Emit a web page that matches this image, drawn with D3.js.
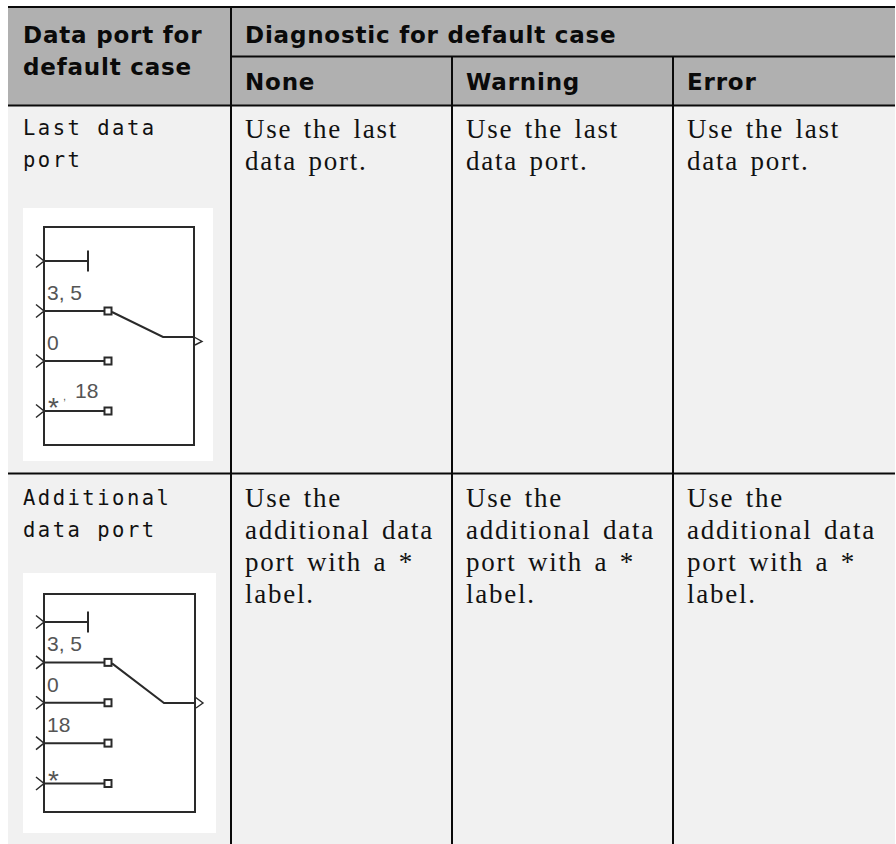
<!DOCTYPE html>
<html lang="en">
<head>
<meta charset="UTF-8">
<script src="https://d3js.org/d3.v7.min.js"></script>
<style>
    html, body { margin: 0; padding: 0; background: #fff; overflow: hidden; }
    svg { display: block; }
    .head { font-family: "DejaVu Sans", sans-serif; font-weight: 700; font-size: 23px; fill: #0a0a0a; letter-spacing: 0.8px; }
    .mono { font-family: "DejaVu Sans Mono", monospace; font-size: 20.5px; fill: #111; letter-spacing: 2.5px; }
    .body { font-family: "Liberation Serif", serif; font-size: 27px; fill: #111; letter-spacing: 1.75px; word-spacing: 3px; }
    .port { font-family: "Liberation Sans", sans-serif; font-size: 21px; fill: #555; }
</style>
</head>
<body>
<div id="here"></div>
<script>
    const topHeader = ["Data port for", "default case"];
    const spanHeader = "Diagnostic for default case";
    const diagnostics = ["None", "Warning", "Error"];
    const rowNames = [["Last data", "port"], ["Additional", "data port"]];
    const rowText = [
        ["Use the last", "data port."],
        ["Use the", "additional data", "port with a *", "label."]
    ];
    const diagramA = ["stub", "3, 5", "0", "*, 18"];
    const diagramB = ["stub", "3, 5", "0", "18", "*"];

    const w = 896, h = 844;
    const svg = d3.select("#here").append("svg").attr("width", w).attr("height", h);

    // table frame
    const tableLeft = 8, tableRight = 895, tableTop = 7, line = "#0a0a0a";
    const xCol = d3.scaleOrdinal().domain(diagnostics).range([231, 452, 673]);
    const rowTop = [105.5, 473.5];

    svg.append("rect").attr("x", tableLeft).attr("y", tableTop).attr("width", tableRight - tableLeft).attr("height", h - tableTop).attr("fill", "#f1f1f1");
    svg.append("rect").attr("x", tableLeft).attr("y", tableTop).attr("width", tableRight - tableLeft).attr("height", rowTop[0] - tableTop).attr("fill", "#b0b0b0");

    function rule(x1, y1, x2, y2) {
        svg.append("line").attr("x1", x1).attr("y1", y1).attr("x2", x2).attr("y2", y2)
            .attr("stroke", line).attr("stroke-width", 2);
    }
    rule(tableLeft, tableTop, tableRight, tableTop);
    rule(231, tableTop, 231, h);
    rule(231, 56.5, tableRight, 56.5);
    rowTop.forEach(y => rule(tableLeft, y, tableRight, y));
    diagnostics.slice(1).forEach(d => rule(xCol(d), 56.5, xCol(d), h));

    function label(cls, x, y, t) {
        return svg.append("text").attr("class", cls).attr("x", x).attr("y", y).text(t);
    }

    // header text
    topHeader.forEach((t, i) => label("head", 23, 43 + i * 32, t));
    label("head", 245, 43, spanHeader);
    diagnostics.forEach(d => label("head", xCol(d) + 14, 90, d));

    // body text
    const monoBase = [135, 505], bodyBase = [138, 507];
    rowNames.forEach((lines, r) => lines.forEach((t, i) => label("mono", 23, monoBase[r] + i * 32, t)));
    rowText.forEach((lines, r) => diagnostics.forEach(d => lines.forEach((t, i) => {
        label("body", xCol(d) + 14, bodyBase[r] + i * 32, t);
    })));

    // switch block picture
    function drawBlock(ports, g) {
        svg.append("rect").attr("x", g.bg[0]).attr("y", g.bg[1]).attr("width", g.bg[2] - g.bg[0]).attr("height", g.bg[3] - g.bg[1]).attr("fill", "#fff");
        const b = svg.append("g").attr("fill", "none").attr("stroke", "#2a2a2a").attr("stroke-width", 2);
        b.append("rect").attr("x", g.x0).attr("y", g.y0).attr("width", g.x1 - g.x0).attr("height", g.y1 - g.y0);

        const yPort = d3.scalePoint().domain(ports).range(g.ports);
        const sq = g.x0 + 64;
        ports.forEach(p => {
            const y = yPort(p);
            b.append("path").attr("d", d3.line()([[g.x0 - 8, y - 6.5], [g.x0, y], [g.x0 - 8, y + 6.5]])).attr("stroke-width", 1.5);
            if (p === "stub") {
                b.append("path").attr("d", d3.line()([[g.x0, y], [g.x0 + 44, y]]));
                b.append("path").attr("d", d3.line()([[g.x0 + 44, y - 10.5], [g.x0 + 44, y + 10.5]]));
                return;
            }
            b.append("path").attr("d", d3.line()([[g.x0, y], [sq - 4, y]]));
            b.append("rect").attr("x", sq - 3.5).attr("y", y - 3.5).attr("width", 7).attr("height", 7);
            if (p.startsWith("*")) {
                label("port", g.x0 + 4, y + 6, "*").style("font-size", "28px");
                if (p.length > 1) {
                    label("port", g.x0 + 19, y - 11, ",").style("font-size", "11px");
                    label("port", g.x0 + 31, y - 13, p.slice(3));
                }
            } else {
                label("port", g.x0 + 3, y - g.labelUp, p);
            }
        });

        // switch arm goes from the selected input to the output
        const yIn = yPort(ports[1]);
        b.append("path").attr("d", d3.line()([[sq + 4, yIn + 1], [g.knee, g.out], [g.x1, g.out]]));
        b.append("path").attr("d", d3.line()(g.arrow.map(a => [g.x1 + a[0], g.out + a[1]]))).attr("stroke-width", 1.4);
    }

    drawBlock(diagramA, { bg: [23, 208, 213, 461], x0: 44, x1: 194, y0: 227, y1: 445, ports: [261, 411], out: 337, knee: 163, labelUp: 11, arrow: [[0, 0], [8, 4.5], [1, 8]] });
    drawBlock(diagramB, { bg: [23, 573, 216, 833], x0: 44, x1: 195, y0: 594, y1: 812, ports: [622, 783.5], out: 703, knee: 164, labelUp: 11, arrow: [[0, -6], [8, 0], [1, 5]] });
</script>
</body>
</html>
